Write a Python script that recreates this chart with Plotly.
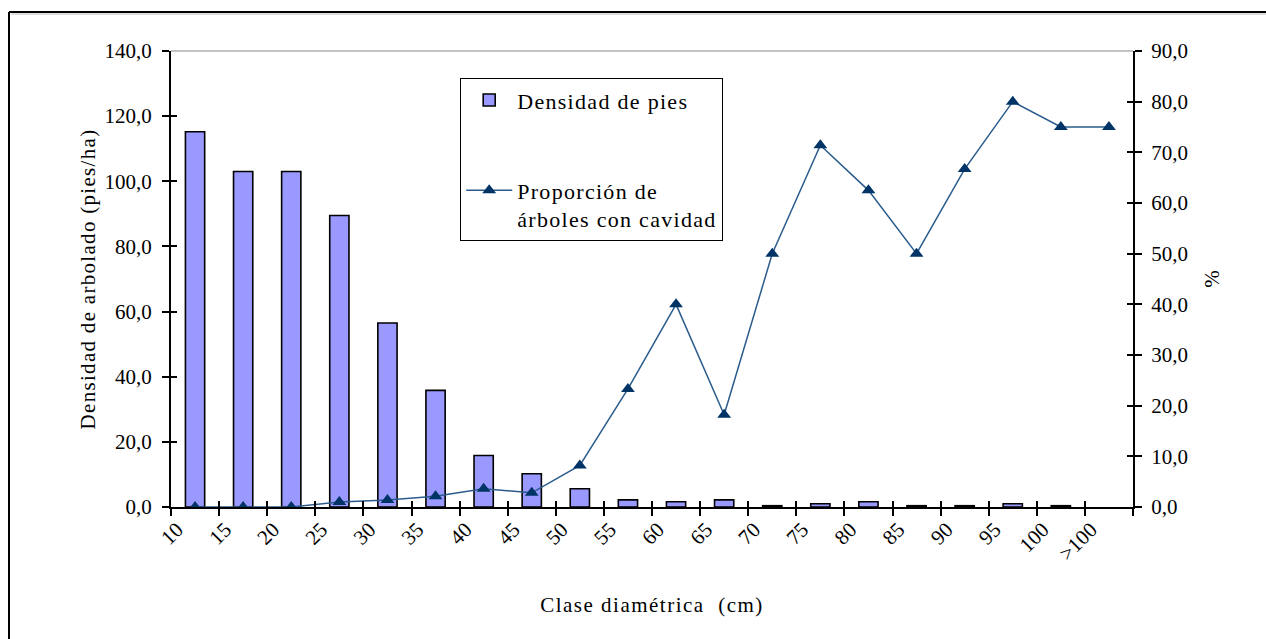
import plotly.graph_objects as go

# Diameter classes (cm)
categories = ["10", "15", "20", "25", "30", "35", "40", "45", "50", "55",
              "60", "65", "70", "75", "80", "85", "90", "95", "100", ">100"]

# Stem density (pies/ha) per diameter class
densidad = [115.2, 103.0, 103.0, 89.5, 56.5, 35.8, 15.8, 10.2, 5.6, 2.2,
            1.6, 2.2, 0.4, 1.0, 1.6, 0.4, 0.4, 1.0, 0.4, None]

# Share of trees with cavities (%) per diameter class
proporcion = [0.0, 0.0, 0.0, 1.0, 1.4, 2.1, 3.6, 2.8, 8.2, 23.3,
              40.0, 18.2, 50.0, 71.4, 62.5, 50.0, 66.7, 80.0, 75.0, 75.0]

FONT = "Times New Roman, Liberation Serif, serif"
W, H = 1266, 639
ML, MR, MT, MB = 171, 133, 51, 132
PW, PH = W - ML - MR, H - MT - MB


def spaced(text, px=1.5):
    return f'<span style="letter-spacing:{px}px">{text}</span>'


fig = go.Figure()

fig.add_trace(go.Bar(
    x=categories, y=densidad, name=spaced("Densidad de pies", 1.3),
    marker=dict(color="#9999FF", line=dict(color="black", width=1.6)),
    width=0.4, yaxis="y", legendgroup="a",
))

# leading blank line keeps the legend symbol level with the first text line
fig.add_trace(go.Scatter(
    x=categories, y=proporcion,
    name=spaced("\u00a0<br>Proporción de<br>árboles con cavidad", 1.3),
    mode="lines+markers", yaxis="y2", legendgroup="b",
    line=dict(color="#2A5B8C", width=1.5),
    marker=dict(symbol="triangle-up", size=12, color="#003366"),
))

# Empty helper traces so the inner-tick overlay axes are drawn
fig.add_trace(go.Scatter(x=categories, y=[None] * len(categories),
                         xaxis="x2", yaxis="y3", showlegend=False,
                         hoverinfo="skip"))
fig.add_trace(go.Scatter(x=categories, y=[None] * len(categories),
                         xaxis="x2", yaxis="y4", showlegend=False,
                         hoverinfo="skip"))

tick_font = dict(family=FONT, size=21, color="black")
title_font = dict(family=FONT, size=21, color="black")
xrange = [-0.5, len(categories) - 0.5]

fig.update_layout(
    width=W, height=H,
    margin=dict(l=ML, r=MR, t=MT, b=MB, autoexpand=False),
    paper_bgcolor="white", plot_bgcolor="white",
    separators=",.",
    font=dict(family=FONT, size=21, color="black"),
    xaxis=dict(
        type="category", range=xrange, tickangle=-45,
        tickson="boundaries", ticks="outside", ticklen=7, tickwidth=1.5,
        tickcolor="black", showline=True, linecolor="black", linewidth=2,
        showgrid=False, zeroline=False, tickfont=tick_font,
        ticklabelshift=-18,
        title=dict(text=spaced("Clase diamétrica  (cm)", 1.5), font=title_font,
                   standoff=33),
    ),
    xaxis2=dict(
        type="category", range=xrange, overlaying="x", anchor="y",
        tickson="boundaries", ticks="inside", ticklen=6, tickwidth=1.5,
        tickcolor="black", showticklabels=False, showline=False,
        showgrid=False, zeroline=False,
    ),
    yaxis=dict(
        range=[0, 140], dtick=20, tickformat=".1f",
        ticks="outside", ticklen=7, tickwidth=1.5, tickcolor="black",
        showline=True, linecolor="black", linewidth=2,
        showgrid=False, zeroline=False, tickfont=tick_font,
        ticklabelstandoff=6,
        title=dict(text=spaced("Densidad de arbolado (pies/ha)", 1.3),
                   font=title_font, standoff=3),
    ),
    yaxis2=dict(
        range=[0, 90], dtick=10, tickformat=".1f", overlaying="y", side="right",
        ticks="outside", ticklen=7, tickwidth=1.5, tickcolor="black",
        showline=True, linecolor="black", linewidth=2,
        showgrid=False, zeroline=False, tickfont=tick_font,
        ticklabelstandoff=5,
        title=dict(text="%", font=title_font, standoff=17),
    ),
    yaxis3=dict(
        range=[0, 140], dtick=20, overlaying="y", side="left", anchor="x2",
        ticks="inside", ticklen=6, tickwidth=1.5, tickcolor="black",
        showticklabels=False, showline=False, showgrid=False, zeroline=False,
    ),
    yaxis4=dict(
        range=[0, 90], dtick=10, overlaying="y", side="right", anchor="x2",
        ticks="inside", ticklen=6, tickwidth=1.5, tickcolor="black",
        showticklabels=False, showline=False, showgrid=False, zeroline=False,
    ),
    legend=dict(
        x=(460 - ML) / PW, y=(H - MB - 78) / PH,
        xanchor="left", yanchor="top",
        bordercolor="black", borderwidth=1.2, bgcolor="white",
        font=dict(family=FONT, size=22, color="black"),
        traceorder="grouped", tracegroupgap=30,
        itemwidth=46,
    ),
    showlegend=True,
    shapes=[
        # gray top edge of the plotting area
        dict(type="line", xref="paper", yref="paper", x0=0, x1=1, y0=1, y1=1,
             line=dict(color="#888888", width=1)),
        # outer chart frame
        dict(type="line", xref="paper", yref="paper",
             x0=(9 - ML) / PW, x1=1.2,
             y0=(H - MB - 12) / PH, y1=(H - MB - 12) / PH,
             line=dict(color="black", width=2)),
        dict(type="line", xref="paper", yref="paper",
             x0=(9 - ML) / PW, x1=(9 - ML) / PW,
             y0=(H - MB - 12) / PH, y1=-0.4,
             line=dict(color="black", width=2)),
        dict(type="line", xref="paper", yref="paper",
             x0=(11 - ML) / PW, x1=1.2,
             y0=(H - MB - 14) / PH, y1=(H - MB - 14) / PH,
             line=dict(color="#BBBBBB", width=1)),
    ],
)

fig.write_html("out.html")
